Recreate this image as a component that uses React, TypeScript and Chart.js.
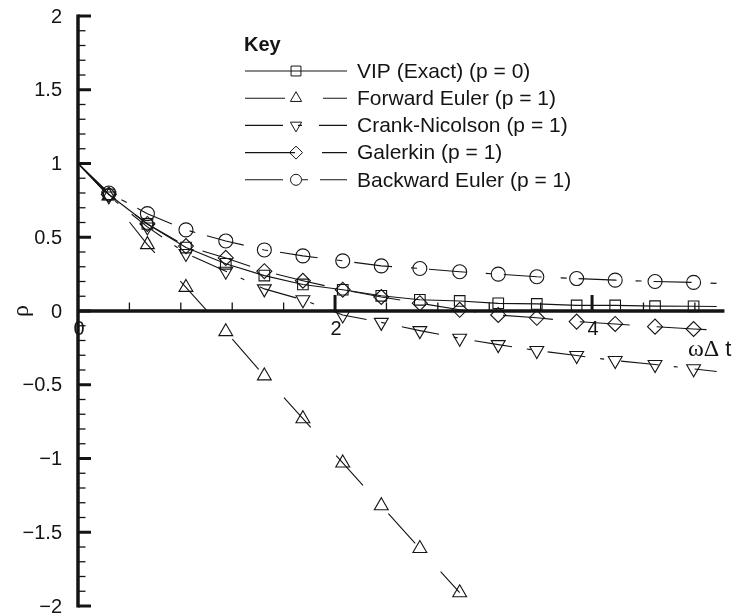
import React, { useEffect, useRef } from 'react';
import { Chart, registerables } from 'chart.js';
import { drawPoint } from 'chart.js/helpers';

Chart.register(...registerables);

// ω∆t sample positions (first = start of curves, last = end of curves, markers in between)
const omegaDt = [0, 0.24, 0.54, 0.84, 1.15, 1.45, 1.75, 2.06, 2.36, 2.66, 2.97, 3.27, 3.57, 3.88, 4.18, 4.49, 4.79, 4.97];

const vipExact = [1, 0.79, 0.59, 0.43, 0.32, 0.24, 0.18, 0.144, 0.103, 0.076, 0.068, 0.052, 0.048, 0.038, 0.038, 0.033, 0.032, 0.03];
const forwardEuler = [1, 0.78, 0.45, 0.16, -0.14, -0.44, -0.73, -1.03, -1.32, -1.61, -1.91];
const crankNicolson = [1, 0.78, 0.57, 0.39, 0.27, 0.15, 0.076, -0.027, -0.077, -0.133, -0.185, -0.228, -0.268, -0.302, -0.336, -0.363, -0.392, -0.41];
const galerkin = [1, 0.79, 0.59, 0.44, 0.36, 0.27, 0.205, 0.144, 0.095, 0.053, 0.008, -0.027, -0.046, -0.072, -0.088, -0.106, -0.122, -0.13];
const backwardEuler = [1, 0.8, 0.66, 0.55, 0.475, 0.414, 0.374, 0.34, 0.306, 0.288, 0.266, 0.25, 0.232, 0.22, 0.209, 0.2, 0.194, 0.187];

const seriesLabels = [
  'VIP (Exact) (p = 0)',
  'Forward Euler (p = 1)',
  'Crank-Nicolson (p = 1)',
  'Galerkin (p = 1)',
  'Backward Euler (p = 1)',
];

const yTickValues = [2, 1.5, 1, 0.5, 0, -0.5, -1, -1.5, -2];
const yTickLabels = ['2', '1.5', '1', '0.5', '0', '\u22120.5', '\u22121', '\u22121.5', '\u22122'];
const xTickValues = [0, 2, 4];
const xTickLabels = ['0', '2', '4'];

const INK = '#141414';
const SANS = '"Liberation Sans", Arial, Helvetica, sans-serif';
const SERIF = '"Liberation Serif", "Times New Roman", serif';

function toPoints(ys: number[]) {
  return ys.map((y, i) => ({ x: omegaDt[i], y }));
}
function radii(ys: number[], r: number, hideLast: boolean) {
  return ys.map((_, i) => (i === 0 || (hideLast && i === ys.length - 1) ? 0 : r));
}

const axesPlugin = {
  id: 'customAxes',
  beforeDatasetsDraw(chart: any) {
    const { ctx } = chart;
    const xs = chart.scales.x;
    const ys = chart.scales.y;
    const x0 = xs.getPixelForValue(0);
    const y0 = ys.getPixelForValue(0);
    ctx.save();
    ctx.strokeStyle = INK;
    ctx.lineCap = 'butt';
    // y axis
    ctx.lineWidth = 3.5;
    ctx.beginPath();
    ctx.moveTo(x0, ys.getPixelForValue(2) - 1.5);
    ctx.lineTo(x0, ys.getPixelForValue(-2) + 1.5);
    ctx.stroke();
    // x axis
    ctx.beginPath();
    ctx.moveTo(x0, y0);
    ctx.lineTo(xs.getPixelForValue(5.03), y0);
    ctx.stroke();
    // y ticks (inside, to the right)
    for (let k = -20; k <= 20; k++) {
      const v = k / 10;
      const py = ys.getPixelForValue(v);
      const major = k % 5 === 0;
      ctx.lineWidth = major ? 3 : 1.3;
      ctx.beginPath();
      ctx.moveTo(x0, py);
      ctx.lineTo(x0 + (major ? 13 : 7.5), py);
      ctx.stroke();
    }
    // x ticks (upwards)
    for (let k = 1; k <= 12; k++) {
      const v = k * 0.4;
      const px = xs.getPixelForValue(v);
      const major = Math.abs(v - 2) < 1e-6 || Math.abs(v - 4) < 1e-6;
      ctx.lineWidth = major ? 3 : 1.3;
      ctx.beginPath();
      ctx.moveTo(px, y0);
      ctx.lineTo(px, y0 - (major ? 16 : 8.5));
      ctx.stroke();
    }
    // tick labels
    ctx.fillStyle = INK;
    ctx.font = `20px ${SANS}`;
    ctx.textAlign = 'right';
    ctx.textBaseline = 'middle';
    yTickValues.forEach((v, i) => {
      ctx.fillText(yTickLabels[i], 62, ys.getPixelForValue(v) + 1);
    });
    ctx.textAlign = 'center';
    ctx.textBaseline = 'top';
    xTickValues.forEach((v, i) => {
      ctx.fillText(xTickLabels[i], xs.getPixelForValue(v) + 1, y0 + 8);
    });
    // axis titles
    ctx.save();
    ctx.translate(22, y0);
    ctx.rotate(-Math.PI / 2);
    ctx.font = `24px ${SERIF}`;
    ctx.textAlign = 'center';
    ctx.textBaseline = 'middle';
    ctx.fillText('\u03C1', 0, 0);
    ctx.restore();
    ctx.textAlign = 'left';
    ctx.textBaseline = 'middle';
    ctx.font = `24px ${SERIF}`;
    ctx.fillText('\u03C9\u0394', 688, 350);
    const w = ctx.measureText('\u03C9\u0394').width;
    ctx.font = `22px ${SANS}`;
    ctx.fillText(' t', 688 + w, 350);
    ctx.restore();
  },
};

const legendPlugin = {
  id: 'keyLegend',
  afterDatasetsDraw(chart: any) {
    const { ctx } = chart;
    ctx.save();
    ctx.fillStyle = INK;
    ctx.textAlign = 'left';
    ctx.textBaseline = 'middle';
    ctx.font = `bold 20px ${SANS}`;
    ctx.fillText('Key', 244, 45);
    chart.data.datasets.forEach((ds: any, i: number) => {
      const y = 71 + i * 27.2;
      ctx.strokeStyle = INK;
      ctx.lineWidth = ds.borderWidth;
      ctx.setLineDash(ds.borderDash || []);
      ctx.beginPath();
      ctx.moveTo(245, y);
      ctx.lineTo(347, y);
      ctx.stroke();
      ctx.setLineDash([]);
      ctx.fillStyle = 'rgba(0,0,0,0)';
      ctx.lineWidth = 1;
      drawPoint(ctx, { pointStyle: ds.pointStyle, rotation: ds.pointRotation || 0, radius: ds.legendRadius, borderWidth: 1 } as any, 296, y);
      ctx.fillStyle = INK;
      ctx.font = `21px ${SANS}`;
      ctx.fillText(ds.label, 357, y + 1);
    });
    ctx.restore();
  },
};

export default function App() {
  const ref = useRef<HTMLCanvasElement | null>(null);
  useEffect(() => {
    document.body.style.margin = '0';
    const canvas = ref.current!;
    const common = {
      borderColor: INK,
      borderWidth: 1.1,
      pointBorderColor: INK,
      pointBackgroundColor: 'rgba(0,0,0,0)',
      pointBorderWidth: 1.1,
      tension: 0,
      fill: false,
    };
    const chart = new Chart(canvas, {
      type: 'line',
      data: {
        datasets: [
          { ...common, label: seriesLabels[0], data: toPoints(vipExact), pointStyle: 'rect', pointRadius: radii(vipExact, 7.5, true), legendRadius: 7, borderDash: [] } as any,
          { ...common, label: seriesLabels[1], data: toPoints(forwardEuler), pointStyle: 'triangle', pointRadius: radii(forwardEuler, 8, false), legendRadius: 6.5, borderDash: [40, 38] } as any,
          { ...common, label: seriesLabels[2], data: toPoints(crankNicolson), pointStyle: 'triangle', pointRotation: 180, pointRadius: radii(crankNicolson, 8, true), legendRadius: 6.5, borderDash: [38, 15, 4, 17] } as any,
          { ...common, label: seriesLabels[3], data: toPoints(galerkin), pointStyle: 'rectRot', pointRadius: radii(galerkin, 7.5, true), legendRadius: 6.5, borderDash: [50, 27] } as any,
          { ...common, label: seriesLabels[4], data: toPoints(backwardEuler), pointStyle: 'circle', pointRadius: radii(backwardEuler, 7, true), legendRadius: 5.5, borderDash: [38, 19, 6, 12] } as any,
        ],
      },
      options: {
        responsive: false,
        animation: false,
        layout: { padding: { left: 78, top: 16, right: 22, bottom: 10 } },
        scales: {
          x: { type: 'linear', min: 0, max: 5.05, display: false },
          y: { type: 'linear', min: -2, max: 2, display: false },
        },
        plugins: { legend: { display: false }, tooltip: { enabled: false } },
        elements: { line: { borderCapStyle: 'butt' } },
      },
      plugins: [axesPlugin, legendPlugin],
    });
    return () => chart.destroy();
  }, []);
  return (
    <div style={{ width: 749, height: 616, background: '#fff' }}>
      <canvas ref={ref} width={749} height={616} style={{ display: 'block' }} />
    </div>
  );
}
